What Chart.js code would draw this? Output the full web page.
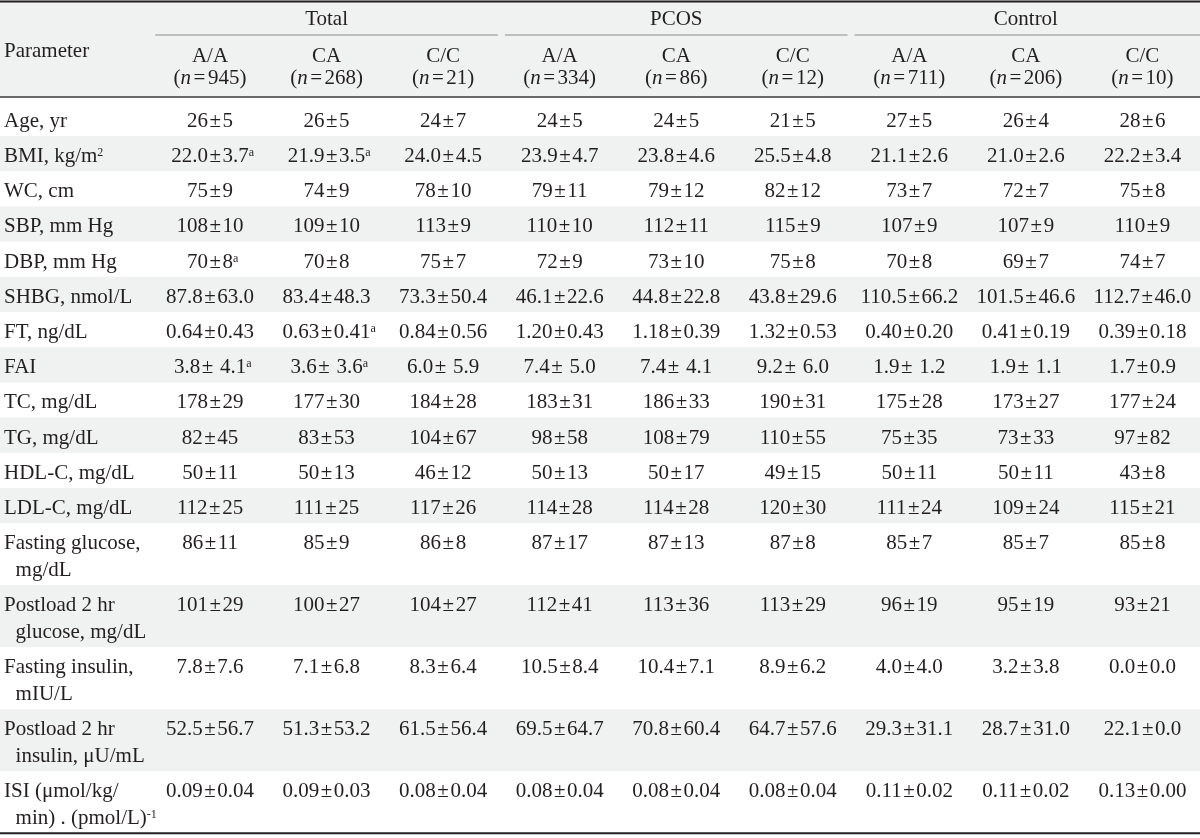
<!DOCTYPE html>
<html>
<head>
<meta charset="utf-8">
<script src="https://cdn.jsdelivr.net/npm/chart.js@4.4.1/dist/chart.umd.min.js"></script>
<style>
  html, body { margin: 0; padding: 0; background: #fff; }
  #wrap { width: 1200px; height: 838px; }
</style>
</head>
<body>
<div id="wrap"><canvas id="tbl" width="1200" height="838"></canvas></div>
<script>
// --- table content ---
const groups = ['Total', 'PCOS', 'Control'];
const genotypes = ['A/A', 'CA', 'C/C'];
const counts = [945, 268, 21, 334, 86, 12, 711, 206, 10];

// each parameter label may wrap onto a second line; '^' starts a superscript
const parameters = [
  ['Age, yr'], ['BMI, kg/m^2'], ['WC, cm'], ['SBP, mm Hg'], ['DBP, mm Hg'],
  ['SHBG, nmol/L'], ['FT, ng/dL'], ['FAI'], ['TC, mg/dL'], ['TG, mg/dL'],
  ['HDL-C, mg/dL'], ['LDL-C, mg/dL'],
  ['Fasting glucose,', 'mg/dL'],
  ['Postload 2 hr', 'glucose, mg/dL'],
  ['Fasting insulin,', 'mIU/L'],
  ['Postload 2 hr', 'insulin, μU/mL'],
  ['ISI (μmol/kg/', 'min) . (pmol/L)^-1']
];

const totalAA = ['26±5', '22.0±3.7^a', '75±9', '108±10', '70±8^a', '87.8±63.0', '0.64±0.43', '3.8± 4.1^a', '178±29', '82±45', '50±11', '112±25', '86±11', '101±29', '7.8±7.6', '52.5±56.7', '0.09±0.04'];
const totalCA = ['26±5', '21.9±3.5^a', '74±9', '109±10', '70±8', '83.4±48.3', '0.63±0.41^a', '3.6± 3.6^a', '177±30', '83±53', '50±13', '111±25', '85±9', '100±27', '7.1±6.8', '51.3±53.2', '0.09±0.03'];
const totalCC = ['24±7', '24.0±4.5', '78±10', '113±9', '75±7', '73.3±50.4', '0.84±0.56', '6.0± 5.9', '184±28', '104±67', '46±12', '117±26', '86±8', '104±27', '8.3±6.4', '61.5±56.4', '0.08±0.04'];
const pcosAA = ['24±5', '23.9±4.7', '79±11', '110±10', '72±9', '46.1±22.6', '1.20±0.43', '7.4± 5.0', '183±31', '98±58', '50±13', '114±28', '87±17', '112±41', '10.5±8.4', '69.5±64.7', '0.08±0.04'];
const pcosCA = ['24±5', '23.8±4.6', '79±12', '112±11', '73±10', '44.8±22.8', '1.18±0.39', '7.4± 4.1', '186±33', '108±79', '50±17', '114±28', '87±13', '113±36', '10.4±7.1', '70.8±60.4', '0.08±0.04'];
const pcosCC = ['21±5', '25.5±4.8', '82±12', '115±9', '75±8', '43.8±29.6', '1.32±0.53', '9.2± 6.0', '190±31', '110±55', '49±15', '120±30', '87±8', '113±29', '8.9±6.2', '64.7±57.6', '0.08±0.04'];
const controlAA = ['27±5', '21.1±2.6', '73±7', '107±9', '70±8', '110.5±66.2', '0.40±0.20', '1.9± 1.2', '175±28', '75±35', '50±11', '111±24', '85±7', '96±19', '4.0±4.0', '29.3±31.1', '0.11±0.02'];
const controlCA = ['26±4', '21.0±2.6', '72±7', '107±9', '69±7', '101.5±46.6', '0.41±0.19', '1.9± 1.1', '173±27', '73±33', '50±11', '109±24', '85±7', '95±19', '3.2±3.8', '28.7±31.0', '0.11±0.02'];
const controlCC = ['28±6', '22.2±3.4', '75±8', '110±9', '74±7', '112.7±46.0', '0.39±0.18', '1.7±0.9', '177±24', '97±82', '43±8', '115±21', '85±8', '93±21', '0.0±0.0', '22.1±0.0', '0.13±0.00'];

const columns = [totalAA, totalCA, totalCC, pcosAA, pcosCA, pcosCC, controlAA, controlCA, controlCC];

// --- layout (scale units: x = column index, y = one single-line row) ---
const UNIT = 35.2;               // px per y unit, used only to set the scale range
const X_MIN = -0.802, X_MAX = 9.494;
const Y_MAX = 838 / UNIT;
const HEADER_H = 97 / UNIT;
const FIRST_PAD = 3.8 / UNIT;    // the first body row is a little taller
const DOUBLE_H = 62 / UNIT;
const BASE_OFF = 26 / UNIT;      // first baseline below row top
const LINE_GAP = 27 / UNIT;
const LABEL_X = -0.7675, INDENT_X = -0.668;

const FONT_FAMILY = '"Liberation Serif", "Times New Roman", serif';
const FONT = '21px ' + FONT_FAMILY;
const FONT_ITALIC = 'italic 21px ' + FONT_FAMILY;
const FONT_SUP = '12px ' + FONT_FAMILY;
const SUP_RISE = 6;
const PAD = { '±': 1.5, '=': 2.5 };
const INK = '#231f20', BAND = '#f0f1f1';

// row tops/bottoms in y units
const rowTops = [], rowBottoms = [];
let yCur = HEADER_H;
parameters.forEach((lines, r) => {
  rowTops.push(yCur);
  yCur += (lines.length > 1 ? DOUBLE_H : 1) + (r === 0 ? FIRST_PAD : 0);
  rowBottoms.push(yCur);
});
const baselineOf = r => rowTops[r] + BASE_OFF + (r === 0 ? FIRST_PAD : 0);

// --- points (text anchors) ---
const headerPoints = [];
headerPoints.push({ x: LABEL_X, y: 56.7 / UNIT, text: 'Parameter', align: 'left' });
groups.forEach((g, i) => headerPoints.push({ x: 3 * i + 2, y: 25 / UNIT, text: g, align: 'center' }));
counts.forEach((n, i) => {
  headerPoints.push({ x: i + 1, y: 61.7 / UNIT, text: genotypes[i % 3], align: 'center' });
  headerPoints.push({ x: i + 1, y: 83.5 / UNIT, text: '(*n*=' + n + ')', align: 'center' });
});

const paramPoints = [];
parameters.forEach((lines, r) => {
  lines.forEach((t, k) => paramPoints.push({
    x: k === 0 ? LABEL_X : INDENT_X, y: baselineOf(r) + k * LINE_GAP, text: t, align: 'left'
  }));
});

const valuePoints = [];
columns.forEach((col, c) => {
  col.forEach((t, r) => valuePoints.push({ x: c + 1, y: baselineOf(r), text: t, align: 'center' }));
});

// --- rich text: '*...*' italic, '^...' superscript to the end, spacing around ± and = ---
function pieces(str) {
  let sup = '';
  const k = str.indexOf('^');
  if (k >= 0) { sup = str.slice(k + 1); str = str.slice(0, k); }
  const out = [];
  str.split('*').forEach((part, i) => {
    part.split(/([±=])/).forEach(p => {
      if (!p) return;
      out.push({ t: p, font: i % 2 ? FONT_ITALIC : FONT, pad: PAD[p] || 0, rise: 0 });
    });
  });
  if (sup) out.push({ t: sup, font: FONT_SUP, pad: 0, rise: SUP_RISE, sup: true });
  return out;
}

function drawRich(ctx, str, x, y, align) {
  const segs = pieces(str);
  let mainW = 0;
  segs.forEach(s => {
    ctx.font = s.font;
    s.w = ctx.measureText(s.t).width + 2 * s.pad;
    if (!s.sup) mainW += s.w;
  });
  let cx = align === 'center' ? x - mainW / 2 : x;
  ctx.textAlign = 'left';
  ctx.textBaseline = 'alphabetic';
  ctx.fillStyle = INK;
  segs.forEach(s => {
    ctx.font = s.font;
    ctx.fillText(s.t, cx + s.pad, y - s.rise);
    cx += s.w;
  });
}

const tablePlugin = {
  id: 'tableText',
  beforeDatasetsDraw(chart) {
    const { ctx, scales: { x, y } } = chart;
    const band = (y0, y1) => {
      const top = y.getPixelForValue(y0), bot = y.getPixelForValue(y1);
      ctx.fillRect(x.left, top, x.right - x.left, bot - top);
    };
    ctx.save();
    ctx.fillStyle = BAND;
    band(0, HEADER_H);
    rowTops.forEach((t, r) => { if (r % 2 === 1) band(t, rowBottoms[r]); });

    const hline = (x0, x1, yv, w, color) => {
      const py = y.getPixelForValue(yv);
      ctx.strokeStyle = color;
      ctx.lineWidth = w;
      ctx.beginPath();
      ctx.moveTo(x.getPixelForValue(x0), py);
      ctx.lineTo(x.getPixelForValue(x1), py);
      ctx.stroke();
    };
    // group underlines
    groups.forEach((g, i) => {
      const x0 = 3 * i + 1 - 0.47;
      const x1 = i === groups.length - 1 ? X_MAX : 3 * i + 3 + 0.47;
      hline(x0, x1, 35 / UNIT, 1, '#8c8c8c');
    });
    hline(X_MIN, X_MAX, 1.5 / UNIT, 2, INK);
    hline(X_MIN, X_MAX, HEADER_H, 1.4, '#3a3a3a');
    hline(X_MIN, X_MAX, rowBottoms[rowBottoms.length - 1], 2, INK);
    ctx.restore();
  },
  afterDatasetsDraw(chart) {
    const ctx = chart.ctx;
    ctx.save();
    chart.data.datasets.forEach((ds, di) => {
      chart.getDatasetMeta(di).data.forEach((pt, i) => {
        const d = ds.data[i];
        drawRich(ctx, d.text, pt.x, pt.y, d.align);
      });
    });
    ctx.restore();
  }
};

new Chart(document.getElementById('tbl'), {
  type: 'scatter',
  data: {
    datasets: [
      { label: 'header', data: headerPoints, pointRadius: 0, pointHoverRadius: 0 },
      { label: 'parameters', data: paramPoints, pointRadius: 0, pointHoverRadius: 0 },
      { label: 'values', data: valuePoints, pointRadius: 0, pointHoverRadius: 0 }
    ]
  },
  options: {
    responsive: false,
    animation: false,
    events: [],
    layout: { padding: 0 },
    plugins: { legend: { display: false }, tooltip: { enabled: false } },
    scales: {
      x: { type: 'linear', display: false, min: X_MIN, max: X_MAX },
      y: { type: 'linear', display: false, reverse: true, min: 0, max: Y_MAX }
    }
  },
  plugins: [tablePlugin]
});
</script>
</body>
</html>
